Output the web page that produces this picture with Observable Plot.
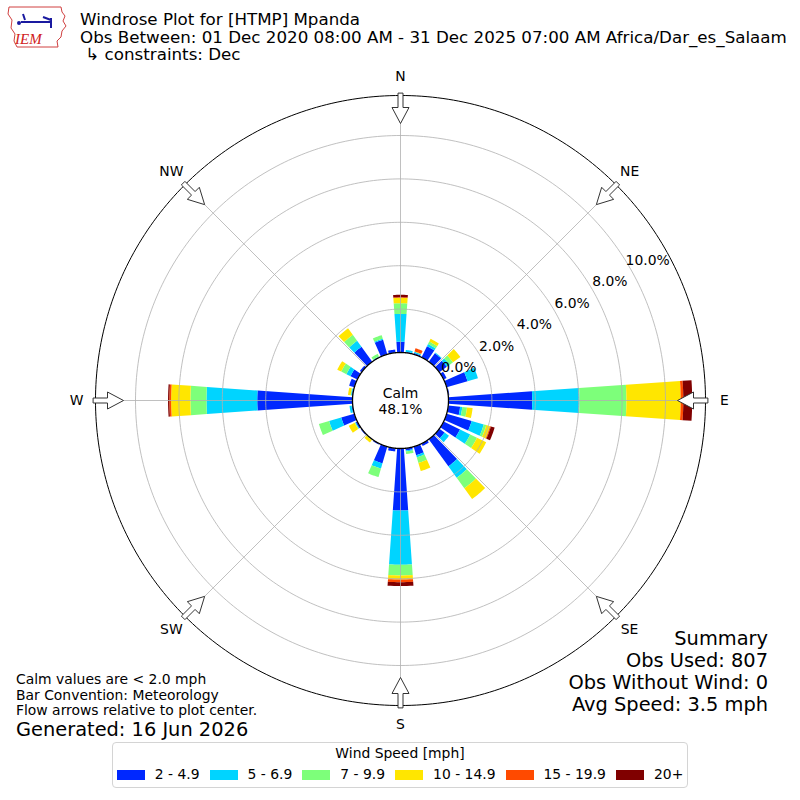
<!DOCTYPE html>
<html><head><meta charset="utf-8">
<script src="https://cdn.jsdelivr.net/npm/d3@7"></script>
<script src="https://cdn.jsdelivr.net/npm/@observablehq/plot@0.6"></script>
<style>
body{margin:0;background:#fff;font-family:"DejaVu Sans",sans-serif;color:#000}
#wrap{position:relative;width:800px;height:800px;overflow:hidden;background:#fff}
#chart{position:absolute;left:0;top:0}
.ov{position:absolute;white-space:pre}
#title{left:80px;top:11px;font-size:16.7px;line-height:17.5px}
#logo{left:5px;top:4px}
#notes{left:16px;top:672px;font-size:13.9px;line-height:15.6px}
#gen{left:16px;top:719px;font-size:19.4px;line-height:22px}
.sum{right:32px;font-size:19.4px;line-height:22px;text-align:right}
#legend{position:absolute;left:112px;top:742px;width:574px;height:44px;border:1px solid #d4d4d4;border-radius:4px;background:rgba(255,255,255,0.8)}
#legtitle{position:absolute;left:0;right:0;top:2px;text-align:center;font-size:13.9px;line-height:17px}
#legitems{position:absolute;left:0;right:0;top:23px;display:flex;justify-content:center;align-items:center;font-size:13.9px;line-height:17px;white-space:nowrap}
.it{display:flex;align-items:center;margin:0 5px;white-space:nowrap;flex:none}
.sw{width:28px;height:10px;margin-right:10px;flex:none}
</style></head><body>
<div id="wrap">
  <div id="chart"></div>
  <svg id="logo" class="ov" width="64" height="46" viewBox="0 0 64 46">
    <path d="M4,3 L56,3 L57,8 L60,12 L58,17 L61,22 L57,27 L56,33 L52,37 L53,43 L12,43 L9,37 L10,30 L6,24 L7,16 L3,10 Z" fill="#fff" stroke="#d04040" stroke-width="1"/>
    <path d="M16,18 L46,18 M46,14 L46,24 M38,13 L46,16 M18,10 L20,16" stroke="#1a1aa0" stroke-width="2" fill="none"/>
    <circle cx="14" cy="19" r="2" fill="#1a1aa0"/>
    <text x="10" y="40" font-family="Liberation Serif, serif" font-style="italic" font-size="15" fill="#d02020">IEM</text>
  </svg>
  <div id="title" class="ov">Windrose Plot for [HTMP] Mpanda
Obs Between: 01 Dec 2020 08:00 AM - 31 Dec 2025 07:00 AM Africa/Dar_es_Salaam
 ↳ constraints: Dec</div>
  <div id="notes" class="ov">Calm values are &lt; 2.0 mph
Bar Convention: Meteorology
Flow arrows relative to plot center.</div>
  <div id="gen" class="ov">Generated: 16 Jun 2026</div>
  <div class="ov sum" style="top:628px">Summary</div>
  <div class="ov sum" style="top:650px">Obs Used: 807</div>
  <div class="ov sum" style="top:672px">Obs Without Wind: 0</div>
  <div class="ov sum" style="top:694px">Avg Speed: 3.5 mph</div>
  <div id="legend"><div id="legtitle">Wind Speed [mph]</div><div id="legitems"></div></div>
</div>
<script>
// ---- data (percent of observations) ----
const directions = [0,10,20,30,40,50,60,70,80,90,100,110,120,130,140,150,160,170,180,190,200,210,220,230,240,250,260,270,280,290,300,310,320,330,340,350];
const speedBins = ["2 - 4.9","5 - 6.9","7 - 9.9","10 - 14.9","15 - 19.9","20+"];
const binColors = ["#0028ff","#00d4ff","#7dff7a","#ffe600","#ff4a00","#800000"];
const pct_2_5   = [0.50,0.04,0.06,0.57,0.48,0.43,0.15,1.00,0.05,3.86,0.55,1.20,0.84,0.30,1.54,0.12,0.41,0.10,2.86,0.15,0.80,0.05,0.02,0.05,0.08,0.63,0.05,4.39,0.04,0.25,0.35,0.10,0.85,0.02,0.70,0.15];
const pct_5_7   = [1.28,0.09,0.06,0.11,0.04,0.15,0,0.50,0,2.18,0.10,0.58,0.52,0.25,0.65,0,0.10,0.05,2.50,0,0.25,0,0.01,0,0.03,0.58,0.10,2.34,0.04,0,0.21,0,0.34,0.03,0.05,0];
const pct_7_10  = [0.49,0,0,0.13,0,0.20,0,0,0,2.16,0.22,0.12,0.35,0,0.60,0,0.27,0.12,0.49,0,0.41,0,0.01,0,0.03,0.49,0,0.74,0.02,0,0.27,0,0.34,0.13,0.17,0];
const pct_10_15 = [0.25,0,0.02,0.14,0,0.42,0,0,0,2.50,0.26,0.18,0.47,0,0.61,0,0.39,0,0.19,0,0,0,0.14,0,0.30,0,0,0.89,0.12,0,0.20,0,0.37,0,0,0];
const pct_15_20 = [0.03,0,0.15,0,0,0,0,0,0,0.12,0,0.04,0,0,0,0,0,0,0.12,0,0,0,0,0,0,0,0,0.08,0,0,0,0,0,0,0,0];
const pct_20p   = [0.11,0,0,0,0,0,0,0,0,0.41,0,0.18,0,0,0,0,0,0,0.18,0,0,0,0,0,0,0,0,0.06,0,0,0,0,0,0,0,0];
const calmPct = 48.1;
const ringTicks = [0,2,4,6,8,10];
const compassLabels = ["N","NE","E","SE","S","SW","W","NW"];
const compassAngles = [0,45,90,135,180,225,270,315];

// ---- layout constants ----
const k = 21.7;              // px per percent
const calmR = 48 / k;        // calm circle radius (data units)
const outerR = 305 / k;
const half = 400 / k;
const barHalfDeg = 4;
const rad = d => d * Math.PI / 180;
const toXY = (deg, r) => [r * Math.sin(rad(deg)), r * Math.cos(rad(deg))];

const series = [pct_2_5, pct_5_7, pct_7_10, pct_10_15, pct_15_20, pct_20p];
const barPts = [];
directions.forEach((dir, i) => {
  let cum = 0;
  series.forEach((arr, j) => {
    const v = arr[i];
    if (!(v > 0)) return;
    const r0 = calmR + cum, r1 = calmR + cum + v;
    cum += v;
    const id = dir + "-" + j, n = 8;
    for (let s = 0; s <= n; s++) { const a = dir - barHalfDeg + 2*barHalfDeg*s/n; const [x,y] = toXY(a, r1); barPts.push({id, bin: speedBins[j], x, y}); }
    for (let s = n; s >= 0; s--) { const a = dir - barHalfDeg + 2*barHalfDeg*s/n; const [x,y] = toXY(a, r0); barPts.push({id, bin: speedBins[j], x, y}); }
  });
});

function circlePts(r, id) {
  const pts = [];
  for (let a = 0; a < 360; a += 1) { const [x,y] = toXY(a, r); pts.push({id, x, y}); }
  return pts;
}
const ringPts = ringTicks.flatMap(t => circlePts(calmR + t, "r" + t));
const outerPts = circlePts(outerR, "outer");
const calmPts = circlePts(calmR, "calm");

// arrows pointing toward centre (px geometry converted to data units)
const arrowShape = [[307,2.5],[293,2.5],[293,8.5],[277,0],[293,-8.5],[293,-2.5],[307,-2.5]];
const arrowPts = compassAngles.flatMap(a => arrowShape.map(([along, off]) => {
  const t = rad(a);
  const x = (along * Math.sin(t) + off * Math.cos(t)) / k;
  const y = (along * Math.cos(t) - off * Math.sin(t)) / k;
  return {id: a, x, y};
}));

const labelAngle = 60.5;
const chart = Plot.plot({
  width: 800, height: 800, margin: 0,
  x: {domain: [-half, half], axis: null},
  y: {domain: [-half, half], axis: null},
  color: {domain: speedBins, range: binColors},
  style: {fontFamily: "DejaVu Sans", background: "transparent", overflow: "visible"},
  marks: [
    Plot.line(barPts, {x: "x", y: "y", z: "id", fill: "bin", stroke: "none", curve: "linear-closed"}),
    Plot.line(ringPts, {x: "x", y: "y", z: "id", stroke: "#b0b0b0", strokeWidth: 0.8, curve: "linear-closed"}),
    Plot.link(compassAngles, {x1: 0, y1: 0, x2: d => toXY(d, outerR)[0], y2: d => toXY(d, outerR)[1], stroke: "#b0b0b0", strokeWidth: 0.8}),
    Plot.line(outerPts, {x: "x", y: "y", z: "id", stroke: "black", strokeWidth: 1, curve: "linear-closed"}),
    Plot.line(calmPts, {x: "x", y: "y", z: "id", fill: "white", stroke: "black", strokeWidth: 1.3, curve: "linear-closed"}),
    Plot.line(arrowPts, {x: "x", y: "y", z: "id", fill: "white", stroke: "#333", strokeWidth: 1, curve: "linear-closed"}),
    Plot.text(compassAngles, {x: d => toXY(d, 324/k)[0], y: d => toXY(d, 324/k)[1], text: (d, i) => compassLabels[i], fontSize: 13.9, fill: "black"}),
    Plot.text(ringTicks, {x: t => toXY(labelAngle, calmR + t + 19/k)[0], y: t => toXY(labelAngle, calmR + t + 19/k)[1], text: t => t.toFixed(1) + "%", fontSize: 13.9, fill: "black"}),
    Plot.text([calmPct], {x: 0, y: 0, text: d => "Calm\n" + d.toFixed(1) + "%", fontSize: 13.9, lineHeight: 1.2, fill: "black"})
  ]
});
document.getElementById("chart").appendChild(chart);

const li = document.getElementById("legitems");
speedBins.forEach((b, i) => {
  const it = document.createElement("div"); it.className = "it";
  const sw = document.createElement("div"); sw.className = "sw"; sw.style.background = binColors[i];
  const tx = document.createElement("span"); tx.textContent = b;
  it.appendChild(sw); it.appendChild(tx); li.appendChild(it);
});
</script>
</body></html>
